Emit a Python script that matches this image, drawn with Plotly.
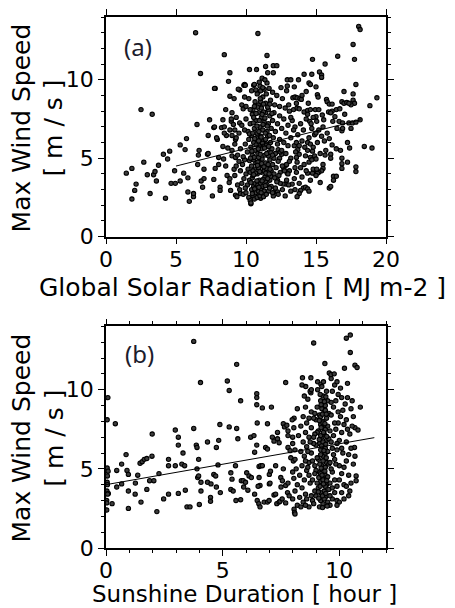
import plotly.graph_objects as go

# ---------------- Panel (a): Global solar radiation vs max wind speed ----------------
solar_sparse = [
    (1.45,4.05),(1.85,4.35),(1.85,2.4),(2.05,2.95),(2.15,3.35),(2.5,8.1),(3.3,7.8),(2.7,4.75),
    (2.95,3.95),(3.15,2.75),(3.4,3.95),(3.5,4.15),(3.6,3.55),(3.75,4.55),(4.1,5.25),(4.25,2.45),
    (4.4,4.95),(4.55,5.45),(4.65,3.4),(4.95,3.4),(4.9,4.2),(5.3,5.85),(5.55,4.05),(5.65,5.55),
    (5.3,3.55),(5.85,3.75),(5.75,6.25),(5.85,2.85),(5.95,2.25),(6.25,2.55),(6.25,2.75),(6.5,7.15),
    (6.6,5.2),(6.65,5.5),(6.55,4.6),(6.8,3.55),(6.9,3.15),(7.0,3.7),(7.0,4.3),(7.3,6.45),
    (7.4,7.45),(7.25,5.25),(7.6,2.6),(7.7,3.65),(7.8,9.45),(7.95,6.2),(8.05,5.05),(8.05,4.6),
    (8.15,3.15),(8.35,5.75),(8.4,4.95),(8.55,4.5),(8.65,3.9),(8.8,3.45),(8.9,2.95),(8.7,5.65),
    (9.0,5.15),(8.6,6.45),(9.0,6.45),(9.25,5.05),(9.25,2.65),(9.6,2.75),(9.15,4.3),(7.7,6.95),
    (8.25,6.95),(8.45,6.6),(8.85,6.8),(9.2,6.8),(9.25,6.2),
    (6.4,13.0),(8.45,11.6),(6.75,10.4),(10.85,12.95),(8.85,10.45),(8.75,9.9),(7.75,9.45),
    (9.55,9.35),(8.85,8.95),(9.15,8.8),(9.85,9.65),(9.8,8.15),(9.0,7.9),(8.35,7.45),(8.95,7.35),
    (9.55,7.25),(7.75,7.0),(8.45,7.0),(8.55,8.1),(8.95,7.5),(9.1,7.15),(7.9,6.3),(7.3,5.3),
    (7.8,4.35),(8.15,2.95),(8.85,3.7),(9.35,2.55),(9.45,9.4),(9.9,9.7),
]
solar_top = [
    (11.5,11.55),(10.25,10.65),(10.75,10.65),(11.55,10.45),(11.95,10.9),(12.2,10.9),(11.4,10.85),
    (11.95,10.45),(11.15,10.1),(9.95,9.65),(10.55,9.65),(10.85,9.2),(11.05,9.3),
]
solar_right = [
    (12.95,10.0),(13.2,10.0),(13.75,10.0),(12.95,9.6),(13.45,9.55),(14.15,10.35),(14.7,10.35),
    (14.75,11.3),(15.65,11.0),(15.25,10.5),(15.4,10.3),(15.4,10.15),(16.55,11.5),(17.65,12.25),
    (17.75,11.3),(18.05,13.4),(18.15,13.2),(17.85,9.7),(19.35,8.85),(18.85,8.35),(18.15,7.45),
    (14.5,9.8),(14.3,9.25),(15.0,9.55),(15.1,9.05),(15.15,8.9),(13.35,8.85),(13.5,8.9),
    (13.65,8.85),(13.85,8.8),(13.95,8.75),(13.05,8.4),(13.4,8.1),(13.65,8.2),(13.8,8.15),
    (14.45,8.5),(14.15,7.95),(14.4,8.05),(14.6,8.1),(14.95,8.1),(15.2,8.1),(15.75,8.75),
    (15.8,8.6),(15.95,8.45),(16.15,8.45),(16.15,8.0),(16.85,8.6),(17.0,8.5),(17.2,8.55),
    (17.0,9.25),(17.65,8.7),(17.75,8.5),(17.5,8.4),(17.35,8.5),(17.65,9.1),(16.45,8.1),
    (16.7,8.15),(17.05,7.8),(15.9,7.95),(16.05,7.9),(15.45,7.75),(15.55,7.45),(15.0,7.65),
    (15.05,7.35),(16.35,7.65),(16.2,7.35),(16.65,7.35),(16.9,7.25),(17.35,7.25),(17.6,7.25),
    (17.85,7.3),(14.55,7.35),(14.65,7.2),
    (18.45,5.75),(19.0,5.65),(17.25,6.0),(17.4,5.65),(16.85,5.0),(16.85,4.65),(16.85,4.35),
    (17.25,4.75),(17.85,4.45),(17.85,4.15),(16.25,3.85),(16.45,3.85),(16.25,3.6),(15.95,3.1),
    (16.05,3.2),(15.3,3.45),(15.5,4.35),(15.4,4.2),(15.2,4.1),(15.65,5.2),(16.05,5.25),
    (16.05,5.0),(15.95,6.25),(16.15,5.85),(16.45,5.6),(16.75,5.5),(16.5,6.9),(16.85,6.75),
    (16.9,6.9),(17.5,6.9),
    (14.1,3.1),(14.25,3.15),(14.4,3.05),(14.5,2.9),(13.9,2.95),(13.8,2.75),(13.65,2.55),
    (14.9,4.05),(15.1,4.05),(14.75,4.05),(14.4,4.05),(14.8,4.3),(15.05,4.3),
    (14.15,4.6),(14.5,4.75),(14.6,5.05),(14.9,5.15),(14.75,5.45),(14.4,5.5),(14.25,5.15),(15.0,4.95),
    (13.7,5.55),(13.8,5.25),(13.45,5.8),(13.55,5.4),(13.6,5.05),(13.65,4.75),(13.5,4.4),(13.6,4.1),
    (13.45,3.7),(13.3,3.35),(12.85,3.35),(13.05,3.3),(12.65,3.35),(12.25,3.6),(12.0,2.85),
    (11.95,2.6),(12.25,2.85),(10.35,2.1),(11.05,2.45),
    (12.7,4.35),(12.85,4.55),(13.1,4.2),(12.95,4.05),(12.4,5.0),(12.55,5.25),(12.3,5.55),(12.45,5.4),
    (13.3,7.4),(13.5,7.0),(13.7,6.5),(13.9,7.2),(14.1,6.8),(14.3,7.5),(14.5,6.3),(14.7,6.9),
    (14.9,6.5),(15.1,6.0),(13.6,6.0),(13.8,5.8),(14.0,6.1),(14.2,5.7),(14.4,6.0),(14.6,5.9),
    (14.8,5.7),(15.0,6.6),(15.2,6.8),(15.4,6.4),(15.6,6.1),(15.8,6.6),(13.2,5.0),(13.9,4.4),
    (14.0,3.8),(14.3,4.2),(14.6,3.6),(15.0,3.9),(15.5,4.6),(15.7,5.5),(13.5,3.0),(13.8,3.4),
    (14.7,4.9),(15.3,5.3),(12.9,3.6),(13.2,2.9),(12.8,2.6),(14.4,7.8),(14.8,7.6),(15.5,7.0),
    (13.1,8.0),(13.6,8.5),(12.5,9.5),(12.9,9.3),(14.6,9.7),(14.0,9.0),
]
solar_cluster = [
    (10.2,2.5),(10.3,2.3),(10.35,2.15),(10.5,2.6),(10.6,2.4),(10.7,2.8),(10.8,2.5),(10.9,2.9),
    (11.0,2.6),(11.1,3.0),(10.4,3.0),(10.55,3.2),(10.65,3.4),(10.75,3.1),(10.85,3.3),(10.95,3.6),
    (11.05,3.4),(11.2,3.2),(11.3,2.9),(11.4,3.5),(11.5,3.3),(11.6,2.9),(11.7,3.6),(11.8,3.2),
    (10.1,3.3),(10.25,3.6),(9.8,2.7),(9.95,3.1),(9.7,3.4),(10.0,2.8),(11.25,2.55),(11.45,2.7),
    (11.9,2.8),(12.1,3.1),(12.3,2.7),(12.45,3.4),(12.6,3.0),(12.2,3.5),(11.35,3.8),(10.45,3.75),
    (9.85,3.7),(9.55,3.0),(9.4,3.3),
    (10.0,4.0),(10.15,4.3),(10.3,4.1),(10.4,4.5),(10.5,3.9),(10.6,4.3),(10.7,4.7),(10.8,4.0),
    (10.9,4.4),(11.0,4.8),(11.1,4.1),(11.2,4.5),(11.3,4.2),(11.4,4.7),(11.5,4.0),(11.6,4.4),
    (11.7,4.9),(11.8,4.2),(11.9,4.6),(12.0,4.0),(12.15,4.4),(12.3,4.8),(12.45,4.1),(12.6,4.5),
    (12.75,4.2),(9.6,4.2),(9.75,4.6),(9.9,4.9),(9.5,4.8),(9.3,4.5),(9.2,3.9),(10.25,4.85),
    (10.55,4.9),(10.85,4.75),(11.15,4.95),(11.45,4.35),(11.75,3.85),(12.05,3.75),(12.35,3.9),
    (12.9,4.6),(13.0,4.0),(13.1,4.8),
    (9.4,5.2),(9.6,5.6),(9.8,5.1),(9.95,5.9),(10.1,5.4),(10.2,6.2),(10.35,5.7),(10.45,5.2),
    (10.55,6.0),(10.65,5.5),(10.75,6.3),(10.85,5.3),(10.95,5.8),(11.05,6.4),(11.15,5.6),
    (11.25,6.1),(11.35,5.2),(11.45,5.9),(11.55,6.4),(11.65,5.4),(11.75,6.0),(11.85,5.6),
    (11.95,6.3),(12.1,5.3),(12.25,5.9),(12.4,6.2),(12.55,5.5),(12.7,6.0),(12.85,5.3),(13.0,5.8),
    (13.2,6.3),(9.2,5.9),(9.0,5.5),(9.3,6.3),(10.4,6.45),(10.9,5.05),(11.6,5.15),(12.0,5.0),
    (9.5,6.6),(9.7,7.1),(9.9,6.8),(10.0,7.5),(10.15,6.7),(10.3,7.2),(10.45,7.8),(10.6,6.9),
    (10.7,7.4),(10.8,6.6),(10.9,7.9),(11.0,7.0),(11.1,7.6),(11.2,6.8),(11.3,7.3),(11.4,7.9),
    (11.5,6.7),(11.6,7.2),(11.7,7.7),(11.8,6.9),(11.9,7.4),(12.0,7.9),(12.1,6.7),(12.25,7.2),
    (12.4,7.7),(12.55,6.9),(12.7,7.5),(12.85,6.6),(13.0,7.1),(13.2,7.6),(13.4,6.8),(9.3,7.6),
    (10.25,6.55),(10.55,7.6),(11.25,7.95),(11.85,7.85),
    (10.0,8.3),(10.2,8.8),(10.4,9.3),(10.5,8.1),(10.65,8.6),(10.8,9.1),(10.9,8.4),(11.0,9.6),
    (11.1,8.2),(11.2,8.9),(11.3,9.4),(11.4,8.5),(11.5,9.8),(11.6,8.1),(11.75,8.7),(11.9,9.2),
    (12.05,8.4),(12.2,9.0),(12.4,8.3),(12.6,8.8),(12.8,8.2),(10.6,9.7),(11.35,10.0),(10.3,8.1),
    (9.7,8.4),(9.9,8.9),(11.05,8.6),(11.65,9.45),
]
solar_core = [
    (10.45,2.75),(10.62,3.05),(10.78,3.55),(10.92,3.15),(11.08,2.8),(11.22,3.65),(11.38,3.25),
    (11.55,3.7),(11.68,3.1),(10.5,4.2),(10.68,4.05),(10.82,4.55),(10.98,4.15),(11.12,4.65),
    (11.28,4.45),(11.42,4.05),(11.58,4.6),(11.72,4.3),(10.42,5.45),(10.58,5.05),(10.72,5.85),
    (10.88,5.6),(11.02,5.25),(11.18,5.95),(11.32,5.65),(11.48,5.3),(11.62,5.75),(11.78,5.35),
    (10.48,6.6),(10.62,6.25),(10.78,7.05),(10.92,6.7),(11.08,6.35),(11.22,7.15),(11.38,6.6),
    (11.52,7.05),(11.68,6.45),(10.52,7.25),(10.72,7.85),(10.95,7.4),(11.15,7.8),(11.35,7.55),
    (11.55,8.25),(10.82,8.25),(11.02,8.8),(11.25,8.45),(11.45,9.1),(10.7,9.35),(10.95,9.85),
    (11.2,9.5),(10.35,3.45),(10.55,3.95),(11.15,3.55),(11.65,4.0),(10.32,5.0),(11.9,5.2),
    (10.9,6.1),(11.4,6.2),(10.6,8.3),(11.7,8.45),
]
fit_a_x = [5.0, 18.2]
fit_a_y = [4.5, 7.45]

# ---------------- Panel (b): Sunshine duration vs max wind speed ----------------
sun_sparse = [
    (0.05,8.1),(0.08,9.5),(0.05,4.9),(0.06,4.55),(0.05,4.15),(0.04,3.6),(0.03,3.0),(0.03,2.4),
    (0.1,3.45),(0.05,5.05),(0.09,4.85),(0.06,4.0),(0.07,3.4),(0.03,2.85),(0.26,2.8),(0.4,7.85),
    (0.46,4.9),(0.46,3.85),(0.67,5.3),(0.67,4.05),(0.86,5.9),(0.9,4.9),(0.96,4.65),(0.96,3.6),
    (0.96,2.5),(1.26,4.1),(1.25,3.4),(1.36,4.6),(1.46,5.35),(1.55,5.45),(1.64,5.6),(1.75,5.65),
    (1.5,2.9),(1.75,3.7),(1.87,4.25),(2.05,4.25),(1.97,5.8),(1.98,7.2),(2.18,2.3),(2.27,4.7),
    (2.47,3.1),(2.68,3.4),(2.68,5.6),(2.68,5.2),(2.97,7.45),(2.97,5.2),(3.1,6.5),(3.1,7.0),
    (3.1,3.45),(3.25,5.3),(3.3,6.0),(3.37,5.2),(3.4,3.65),(3.47,2.6),(3.6,2.6),(3.76,7.55),
    (3.76,13.05),(3.87,6.5),(3.9,6.35),(3.9,5.0),(3.93,4.45),(3.97,4.55),(3.97,5.6),(4.0,2.75),
    (4.05,10.45),(4.07,4.15),(4.07,3.6),(4.35,6.7),(4.35,4.15),(4.48,3.2),(4.48,2.95),(4.5,4.05),
    (4.62,4.65),(4.7,4.55),(4.73,6.35),(4.73,3.85),(4.8,5.25),(4.83,6.8),(4.88,7.8),(4.9,3.5),
    (5.2,10.55),(5.28,9.95),(5.28,7.65),(5.35,4.75),(5.4,4.35),(5.35,3.7),(5.45,3.6),(5.55,5.2),
    (5.6,11.6),(5.6,7.55),(5.65,6.9),(5.57,3.0),(5.77,9.3),(5.77,3.05),(5.8,4.25),(5.88,4.25),
    (5.9,3.85),(5.98,4.15),(6.03,4.75),(6.08,3.65),(6.13,4.55),(6.23,4.45),(6.2,7.0),(6.34,7.1),
    (6.37,6.05),(6.37,3.4),(6.46,6.5),(6.46,9.75),(6.46,9.5),(6.46,9.05),(6.48,7.9),(6.48,3.0),
    (6.55,2.8),(6.6,2.6),(6.56,5.15),(6.63,5.2),(6.7,5.2),(6.56,4.45),(6.6,3.95),(6.52,3.9),
    (6.7,8.85),(6.84,6.35),(6.92,6.25),(6.78,2.9),(6.92,2.9),(6.99,3.0),(7.0,4.05),(7.03,4.1),
    (7.0,4.65),(7.05,4.85),(6.92,7.85),(7.09,8.9),(7.13,7.0),(7.2,6.75),(7.27,5.2),(7.2,3.35),
    (7.27,3.4),(7.32,2.8),(7.42,2.9),(7.35,6.9),(7.42,6.65),(7.35,7.3),(7.49,4.45),(7.56,4.25),
    (7.5,3.85),(7.46,2.95),(7.6,5.0),(7.7,10.45),(7.6,7.85),(7.65,7.65),(7.75,7.75),(7.8,7.4),
    (7.8,7.1),(7.8,6.35),(7.89,6.15),(7.7,3.95),(7.8,4.1),(7.78,3.5),(7.55,3.1),(7.7,2.85),
    (7.92,5.7),(8.03,5.5),(8.06,8.2),(7.98,8.1),(7.85,3.3),(8.0,3.1),(8.06,2.45),(8.08,2.25),
    (8.1,2.15),
]
sun_right = [
    (8.9,12.95),(10.3,13.25),(10.47,13.45),(10.47,12.35),(10.67,11.55),(10.76,11.4),(10.9,8.9),
    (10.67,7.6),(10.8,7.45),(10.65,6.35),(10.67,5.8),(10.72,4.55),(10.72,4.25),(10.22,11.35),
    (9.38,11.65),(9.57,11.05),(9.64,10.95),(9.78,11.0),(8.42,10.75),(8.78,10.75),(9.07,10.5),
    (9.21,10.35),(9.32,10.5),(8.56,10.2),(8.78,9.8),(9.07,10.0),
]
sun_cluster = [
    (9.15,2.6),(9.3,2.8),(9.2,3.0),(9.4,3.2),(9.25,3.4),(9.35,3.6),(9.1,3.8),(9.45,4.0),
    (9.2,4.2),(9.3,4.4),(9.4,4.6),(9.15,4.8),(9.35,5.0),(9.25,5.2),(9.45,5.4),(9.1,5.6),
    (9.3,5.8),(9.4,6.0),(9.2,6.2),(9.35,6.4),(9.15,6.6),(9.45,6.8),(9.25,7.0),(9.35,7.2),
    (9.1,7.4),(9.4,7.6),(9.2,7.8),(9.3,8.0),(9.45,8.2),(9.15,8.4),(9.35,8.6),(9.25,8.8),
    (9.4,9.0),(9.2,9.3),(9.3,9.6),(9.45,9.9),(9.25,10.2),(9.35,3.1),(9.2,3.5),(9.4,3.9),
    (9.3,4.3),(9.2,4.7),(9.4,5.1),(9.3,5.5),(9.2,5.9),(9.4,6.3),(9.3,6.7),(9.2,7.1),(9.4,7.5),
    (9.3,7.9),(9.2,8.3),(9.4,8.7),(9.5,2.9),(9.55,3.7),(9.5,4.5),(9.55,5.3),(9.5,6.1),
    (9.55,6.9),(9.5,7.7),(9.55,8.5),(9.5,9.3),(9.0,3.3),(9.05,4.1),(9.0,4.9),(9.05,5.7),
    (9.0,6.5),(9.05,7.3),(9.0,8.1),(9.05,8.9),
    (8.2,2.7),(8.3,3.2),(8.4,3.8),(8.5,4.3),(8.6,4.9),(8.7,5.4),(8.8,6.0),(8.9,6.6),(8.25,7.1),
    (8.35,7.7),(8.45,8.3),(8.55,8.9),(8.65,9.4),(8.75,9.9),(8.85,3.0),(8.95,3.6),(8.3,4.6),
    (8.4,5.2),(8.5,5.8),(8.6,6.4),(8.7,7.0),(8.8,7.6),(8.9,8.2),(8.2,8.8),(8.1,6.2),(8.15,5.0),
    (8.05,4.4),(8.1,3.6),(8.7,2.6),(8.55,3.4),(8.75,4.1),(8.95,4.7),(8.65,5.1),(8.85,5.5),
    (8.45,6.7),(8.35,6.1),(8.95,7.2),(8.6,7.9),(8.8,8.6),(8.5,9.6),(8.8,10.0),(8.4,10.3),
    (8.0,7.0),(8.05,7.6),(8.0,6.6),(8.1,5.6),(8.0,4.8),(8.2,4.0),(8.45,2.9),(8.9,2.8),
    (9.6,2.7),(9.7,3.1),(9.8,3.5),(9.9,3.9),(10.0,4.3),(10.1,4.7),(10.2,5.1),(10.3,5.5),
    (10.4,5.9),(10.5,6.3),(9.65,6.7),(9.75,7.1),(9.85,7.5),(9.95,7.9),(10.05,8.3),(10.15,8.7),
    (10.25,9.1),(10.35,9.5),(9.7,9.9),(9.8,10.3),(9.9,3.0),(10.0,2.9),(10.2,3.1),(10.4,3.3),
    (9.6,4.1),(9.7,4.8),(9.8,5.6),(9.9,6.2),(10.0,6.8),(10.1,7.3),(10.2,7.8),(10.3,8.1),
    (9.65,8.4),(9.75,8.9),(9.85,9.3),(9.95,9.7),(10.05,10.1),(10.15,6.0),(10.3,6.7),(10.45,7.2),
    (10.55,7.7),(10.6,8.3),(10.5,8.8),(10.4,4.6),(10.5,4.1),(10.6,5.3),(10.45,3.6),(9.6,5.4),
    (9.75,5.9),(10.0,5.2),(10.2,4.0),(10.35,10.4),(10.55,9.3),(9.65,10.7),(9.9,10.5),(10.1,9.5),
]
sun_core = [
    (9.12,3.15),(9.28,3.3),(9.42,3.45),(9.18,3.9),(9.32,4.05),(9.46,4.25),(9.12,4.45),(9.26,4.6),
    (9.38,4.85),(9.22,5.05),(9.44,5.7),(9.16,5.3),(9.34,6.15),(9.24,6.45),(9.42,6.55),(9.14,6.85),
    (9.32,7.3),(9.46,7.05),(9.22,7.6),(9.38,7.85),(9.14,8.05),(9.28,8.45),(9.44,8.45),(9.22,9.05),
    (9.36,9.25),(9.18,9.7),(9.42,9.55),(9.28,2.55),(9.48,2.65),(9.1,3.55),(8.85,4.3),(8.95,5.2),
    (8.7,4.6),(8.55,5.5),(8.65,6.1),(8.75,6.7),(8.9,7.0),(8.55,7.3),(8.7,8.2),(8.95,8.5),
    (8.6,3.1),(8.8,3.3),(9.6,3.3),(9.7,3.8),(9.8,4.3),(9.65,5.0),(9.85,5.3),(9.7,6.3),(9.9,6.6),
    (9.6,7.4),(9.8,7.9),(9.65,9.2),(8.35,2.6),(8.55,2.7),(9.9,2.7),(10.1,3.5),(10.3,3.9),
    (10.1,6.3),(10.35,7.5),(9.95,8.6),
]
fit_b_x = [0.0, 11.5]
fit_b_y = [4.0, 6.97]

solar_pts = solar_sparse + solar_top + solar_right + solar_cluster + solar_core
sun_pts = sun_sparse + sun_right + sun_cluster + sun_core
solar_x = [p[0] for p in solar_pts]
solar_y = [p[1] for p in solar_pts]
sun_x = [p[0] for p in sun_pts]
sun_y = [p[1] for p in sun_pts]

FONT = "DejaVu Sans"
marker = dict(size=4.3, color="rgb(60,60,60)", line=dict(color="black", width=1.1))

fig = go.Figure()
fig.add_trace(go.Scatter(x=solar_x, y=solar_y, mode="markers", marker=marker,
                         xaxis="x", yaxis="y", showlegend=False))
fig.add_trace(go.Scatter(x=fit_a_x, y=fit_a_y, mode="lines", line=dict(color="black", width=1),
                         xaxis="x", yaxis="y", showlegend=False))
fig.add_trace(go.Scatter(x=sun_x, y=sun_y, mode="markers", marker=marker,
                         xaxis="x2", yaxis="y2", showlegend=False))
fig.add_trace(go.Scatter(x=fit_b_x, y=fit_b_y, mode="lines", line=dict(color="black", width=1),
                         xaxis="x2", yaxis="y2", showlegend=False))

axis_common = dict(showline=True, linecolor="black", linewidth=1.5, mirror="ticks",
                   ticks="outside", ticklen=6, tickwidth=1, tickcolor="black",
                   showgrid=False, zeroline=False,
                   tickfont=dict(family=FONT, size=22, color="black"))
minor = dict(dtick=1, ticks="outside", ticklen=3.5, tickwidth=1, tickcolor="black", showgrid=False)

fig.update_layout(
    width=455, height=608,
    margin=dict(l=106, r=69, t=9, b=60),
    paper_bgcolor="white", plot_bgcolor="white",
    xaxis=dict(domain=[0, 1], range=[0, 20], dtick=5, anchor="y", ticklabelstandoff=-4,
               **axis_common),
    yaxis=dict(domain=[0.5863, 1], range=[0, 14], dtick=5, anchor="x", minor=minor, **axis_common),
    xaxis2=dict(domain=[0, 1], range=[0, 12], dtick=5, anchor="y2", minor=minor,
                ticklabelstandoff=-4, **axis_common),
    yaxis2=dict(domain=[0, 0.4174], range=[0, 14], dtick=5, anchor="x2", minor=minor, **axis_common),
)

tfont = dict(family=FONT, size=25, color="black")
annots = [
    dict(text="Max Wind Speed<br>[ m / s ]", x=-0.243, y=0.792, textangle=-90, font=tfont),
    dict(text="Max Wind Speed<br>[ m / s ]", x=-0.243, y=0.208, textangle=-90, font=tfont),
    dict(text="Global Solar Radiation [ MJ m-2 ]", x=0.489, y=0.490, font=tfont),
    dict(text="Sunshine Duration [ hour ]", x=0.496, y=-0.0875,
         font=dict(family=FONT, size=23, color="black")),
    dict(text="(a)", x=0.114, y=0.945, font=dict(family="Noto Sans", size=24, color="#1c1c2c")),
    dict(text="(b)", x=0.118, y=0.367, font=dict(family="Noto Sans", size=24, color="#1c1c2c")),
]
for a in annots:
    fig.add_annotation(xref="paper", yref="paper", xanchor="center", yanchor="middle",
                       showarrow=False, **a)

fig.write_html("out.html")
